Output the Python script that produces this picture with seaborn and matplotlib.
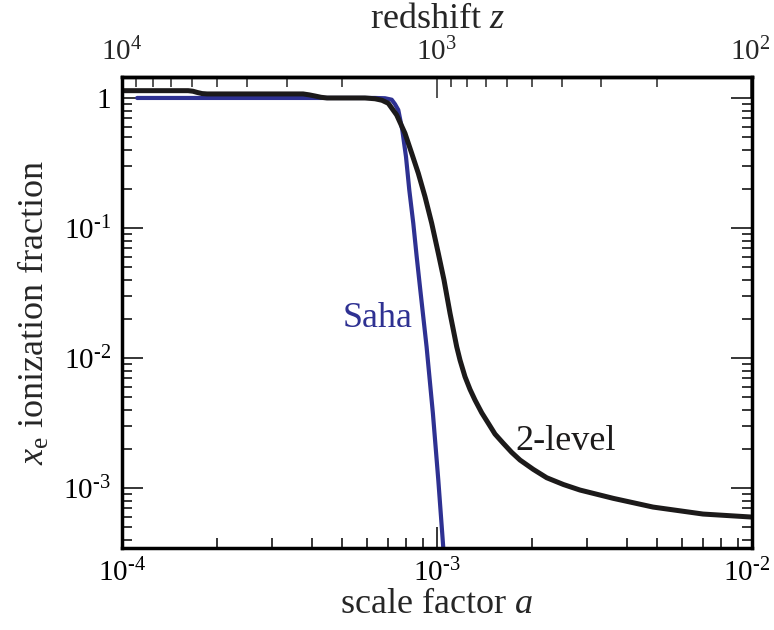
import numpy as np
import seaborn as sns
import matplotlib.pyplot as plt
from matplotlib.ticker import FixedLocator, LogLocator, NullFormatter, FuncFormatter
from matplotlib.transforms import ScaledTranslation

# значения: масштабный фактор a и доля ионизации x_e
a_saha = [1.117e-4, 6.355e-4, 6.84e-4, 7.181e-4, 7.356e-4, 7.535e-4, 7.758e-4, 7.971e-4,
          8.166e-4, 8.408e-4, 8.620e-4, 8.851e-4, 9.268e-4, 9.704e-4, 1.0095e-3, 1.0471e-3,
          1.0517e-3]
xe_saha = [1.0, 1.0, 0.995, 0.970, 0.896, 0.809, 0.5674, 0.3535,
           0.1960, 0.1087, 0.0601, 0.03335, 0.01215, 3.755e-3, 1.152e-3, 3.455e-4,
           2.893e-4]

a_2lev = [9.999e-5, 1.622e-4, 1.679e-4, 1.730e-4, 1.795e-4, 1.862e-4, 3.758e-4, 3.926e-4,
          4.102e-4, 4.285e-4, 4.477e-4, 5.905e-4, 6.355e-4, 6.688e-4, 7.004e-4, 7.446e-4,
          7.913e-4, 8.311e-4, 8.722e-4, 9.160e-4, 9.620e-4, 1.0095e-3, 1.0525e-3, 1.0999e-3,
          1.1548e-3, 1.1830e-3, 1.2271e-3, 1.2726e-3, 1.3200e-3, 1.3863e-3, 1.4552e-3, 1.5278e-3,
          1.6238e-3, 1.7259e-3, 1.8344e-3, 2.0212e-3, 2.2300e-3, 2.518e-3, 2.844e-3, 3.628e-3,
          4.85e-3, 6.99e-3, 1.0e-2]
xe_2lev = [1.138, 1.138, 1.127, 1.104, 1.081, 1.074, 1.074, 1.057,
           1.035, 1.012, 1.0, 1.0, 0.986, 0.960, 0.910, 0.740,
           0.535, 0.3755, 0.2635, 0.1741, 0.1087, 0.0639, 0.0398, 0.02207,
           0.01222, 9.65e-3, 7.18e-3, 5.743e-3, 4.753e-3, 3.794e-3, 3.146e-3, 2.602e-3,
           2.207e-3, 1.882e-3, 1.642e-3, 1.392e-3, 1.20e-3, 1.065e-3, 9.65e-4, 8.33e-4,
           7.14e-4, 6.31e-4, 5.98e-4]

x_ticks = [1e-4, 1e-3, 1e-2]
y_ticks = [1e-3, 1e-2, 1e-1, 1]
z_ticks = [1e2, 1e3, 1e4]

blue = "#2e3192"
black = "#1c1a1a"

sns.set_style("ticks")
plt.rcParams['font.family'] = ['Liberation Serif', 'DejaVu Serif']
plt.rcParams['mathtext.fontset'] = 'custom'
plt.rcParams['mathtext.rm'] = 'Liberation Serif'
plt.rcParams['mathtext.it'] = 'Liberation Serif:italic'
plt.rcParams['axes.unicode_minus'] = False


def pow_label(v, pos):
    e = int(round(np.log10(v)))
    if e == 0:
        return "1"
    return "10$^{\\text{%d}}$" % e


fig = plt.figure(figsize=(7.74, 6.3), dpi=100)
ax = fig.add_axes([0.1576, 0.1302, 0.814, 0.7476])
ax.set(xscale='log', yscale='log')

sns.lineplot(x=a_saha, y=xe_saha, color=blue, lw=3.0, ax=ax)
sns.lineplot(x=a_2lev, y=xe_2lev, color=black, lw=3.6, ax=ax)

ax.set_xlim(1 / 10001, 1e-2)
ax.set_ylim(3.46e-4, 1.45)

ax.xaxis.set_major_locator(FixedLocator(x_ticks))
ax.yaxis.set_major_locator(FixedLocator(y_ticks))
ax.xaxis.set_major_formatter(FuncFormatter(pow_label))
ax.yaxis.set_major_formatter(FuncFormatter(pow_label))
ax.xaxis.set_minor_locator(LogLocator(base=10, subs=np.arange(2, 10), numticks=20))
ax.yaxis.set_minor_locator(LogLocator(base=10, subs=np.arange(2, 10), numticks=20))
ax.xaxis.set_minor_formatter(NullFormatter())
ax.yaxis.set_minor_formatter(NullFormatter())

ax.tick_params(which='both', direction='in', top=False, right=True, width=1.1, colors='black')
ax.tick_params(which='major', length=15, labelsize=21, pad=8)
ax.tick_params(which='minor', length=7)
for s in ax.spines.values():
    s.set_linewidth(2.5)
    s.set_color('black')

# подпись 10^-2 чуть левее, чтобы не обрезалась краем
lbl = ax.xaxis.get_major_ticks()[-1].label1
lbl.set_transform(lbl.get_transform() + ScaledTranslation(-4 / 72, 0, fig.dpi_scale_trans))

ax.set_xlabel("scale factor $a$", fontsize=26, labelpad=0)
ax.set_ylabel("$x_{\\mathrm{e}}$ ionization fraction", fontsize=26, labelpad=8)

# верхняя ось: красное смещение z = 1/a - 1
def a_to_z(a):
    a = np.asarray(a, dtype=float)
    with np.errstate(divide='ignore', invalid='ignore'):
        return 1.0 / a - 1.0


def z_to_a(z):
    z = np.asarray(z, dtype=float)
    with np.errstate(divide='ignore', invalid='ignore'):
        return 1.0 / (1.0 + z)


secax = ax.secondary_xaxis('top', functions=(a_to_z, z_to_a))
secax.xaxis.set_major_locator(FixedLocator(z_ticks))
secax.xaxis.set_major_formatter(FuncFormatter(pow_label))
secax.xaxis.set_minor_locator(LogLocator(base=10, subs=np.arange(2, 10), numticks=20))
secax.xaxis.set_minor_formatter(NullFormatter())
secax.tick_params(which='both', direction='in', width=1.1)
secax.tick_params(which='major', length=15, labelsize=21, pad=8)
secax.tick_params(which='minor', length=7)
secax.spines['top'].set_linewidth(2.5)
secax.set_xlabel("redshift $z$", fontsize=26, labelpad=7)

ax.text(8.34e-4, 0.0173, "Saha", color=blue, fontsize=26, ha='right', va='baseline')
ax.text(1.77e-3, 1.96e-3, "2-level", color=black, fontsize=26, ha='left', va='baseline')

fig.savefig("out.png", dpi=100)
